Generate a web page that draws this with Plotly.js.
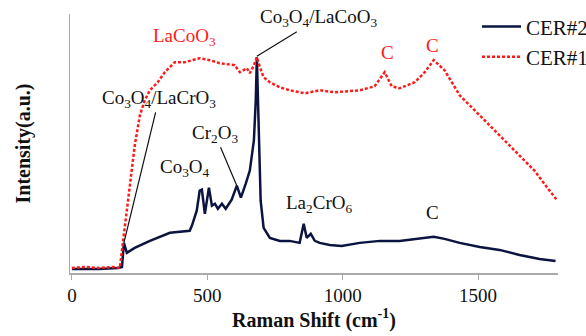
<!DOCTYPE html>
<html><head><meta charset="utf-8">
<script src="https://cdn.plot.ly/plotly-3.0.1.min.js"></script>
<style>html,body{margin:0;padding:0;background:#fff}#c{width:586px;height:336px}</style>
</head><body><div id="c"></div>
<script>
const cer1_x = [0,50,100,150,177,196,214,232,251,269,288,317,343,380,417,472,509,546,601,620,646,657,672,683,694,708,731,768,804,860,915,970,1063,1118,1155,1181,1210,1266,1303,1336,1376,1432,1506,1579,1653,1708,1764,1793];
const cer1_y = [5,6,5,6,5,47,92,127,157,172,182,190,200,210,210,214,212,209,207,200,204,199,207,215,205,195,190,185,182,179,182,180,182,186,200,186,184,190,200,212,202,177,157,137,117,102,82,72];
const cer2_x = [0,100,170,185,192,203,232,288,362,435,443,461,472,480,491,506,517,528,539,554,568,590,609,624,642,657,672,679,683,690,697,708,731,768,804,841,856,867,882,897,915,952,996,1063,1137,1210,1284,1336,1376,1432,1506,1579,1653,1727,1786];
const cer2_y = [4,4,5,6,30,20,25,32,40,42,47,62,82,83,59,85,67,69,64,69,64,73,87,75,89,102,132,172,215,149,72,45,35,32,32,30,49,35,39,32,30,28,27,30,32,32,34,36,34,30,26,23,18,14,12];
const xTicks = [0,500,1000,1500];

const serif = 'Liberation Serif, Times New Roman, serif';
const traces = [
  {x: cer2_x, y: cer2_y, name: 'CER#2', mode: 'lines', line: {color: '#0b1340', width: 2.5}},
  {x: cer1_x, y: cer1_y, name: 'CER#1', mode: 'lines', line: {color: '#ff1a1a', width: 2.5, dash: '3px,2px'}}
];
const black = {family: serif, size: 19, color: '#111'};
const red = {family: serif, size: 19, color: '#ff1a1a'};
const layout = {
  width: 586, height: 336,
  margin: {l: 70, r: 28, t: 14, b: 63, autoexpand: false},
  paper_bgcolor: '#fff', plot_bgcolor: '#fff',
  font: {family: serif, size: 19, color: '#111'},
  showlegend: true,
  legend: {x: 0.834, y: 1.03, xanchor: 'left', yanchor: 'top', itemwidth: 39, bgcolor: 'rgba(0,0,0,0)', font: {family: serif, size: 21, color: '#111'}, tracegroupgap: 0},
  xaxis: {range: [-7, 1795], tickvals: xTicks, ticktext: xTicks.map(String), ticks: 'outside', ticklen: 5, tickcolor: '#aaa',
    showline: true, linecolor: '#aaa', linewidth: 1.5, showgrid: false, zeroline: false,
    tickfont: {family: serif, size: 19, color: '#111'},
    title: {text: '<b>Raman Shift (cm<sup>-1</sup>)</b>', font: {family: serif, size: 20, color: '#111'}, standoff: 6}},
  yaxis: {range: [0, 258], showticklabels: false, ticks: '', showline: true, linecolor: '#aaa', linewidth: 1.5, showgrid: false, zeroline: false,
    title: {text: '<b>Intensity(a.u.)</b>', font: {family: serif, size: 20, color: '#111'}, standoff: 32}},
  annotations: [
    {x: 683, y: 216, ax: 62, ay: -38, text: 'Co<sub>3</sub>O<sub>4</sub>/LaCoO<sub>3</sub>', showarrow: true, arrowhead: 0, arrowwidth: 1.2, arrowcolor: '#111', font: black},
    {x: 192, y: 30, text: 'Co<sub>3</sub>O<sub>4</sub>/LaCrO<sub>3</sub>', showarrow: true, arrowhead: 0, arrowwidth: 1.2, arrowcolor: '#111', ax: 35, ay: -144, font: black},
    {x: 609, y: 87, text: 'Cr<sub>2</sub>O<sub>3</sub>', showarrow: true, arrowhead: 0, arrowwidth: 1.2, arrowcolor: '#111', ax: -22, ay: -52, font: black},
    {x: 418, y: 105, text: 'Co<sub>3</sub>O<sub>4</sub>', showarrow: false, font: black},
    {x: 912, y: 69, text: 'La<sub>2</sub>CrO<sub>6</sub>', showarrow: false, font: black},
    {x: 1333, y: 60, text: 'C', showarrow: false, font: black},
    {x: 415, y: 235, text: 'LaCoO<sub>3</sub>', showarrow: false, font: red},
    {x: 1167, y: 220, text: 'C', showarrow: false, font: red},
    {x: 1330, y: 227, text: 'C', showarrow: false, font: red}
  ]
};
Plotly.newPlot('c', traces, layout, {staticPlot: true, displayModeBar: false});
</script></body></html>
